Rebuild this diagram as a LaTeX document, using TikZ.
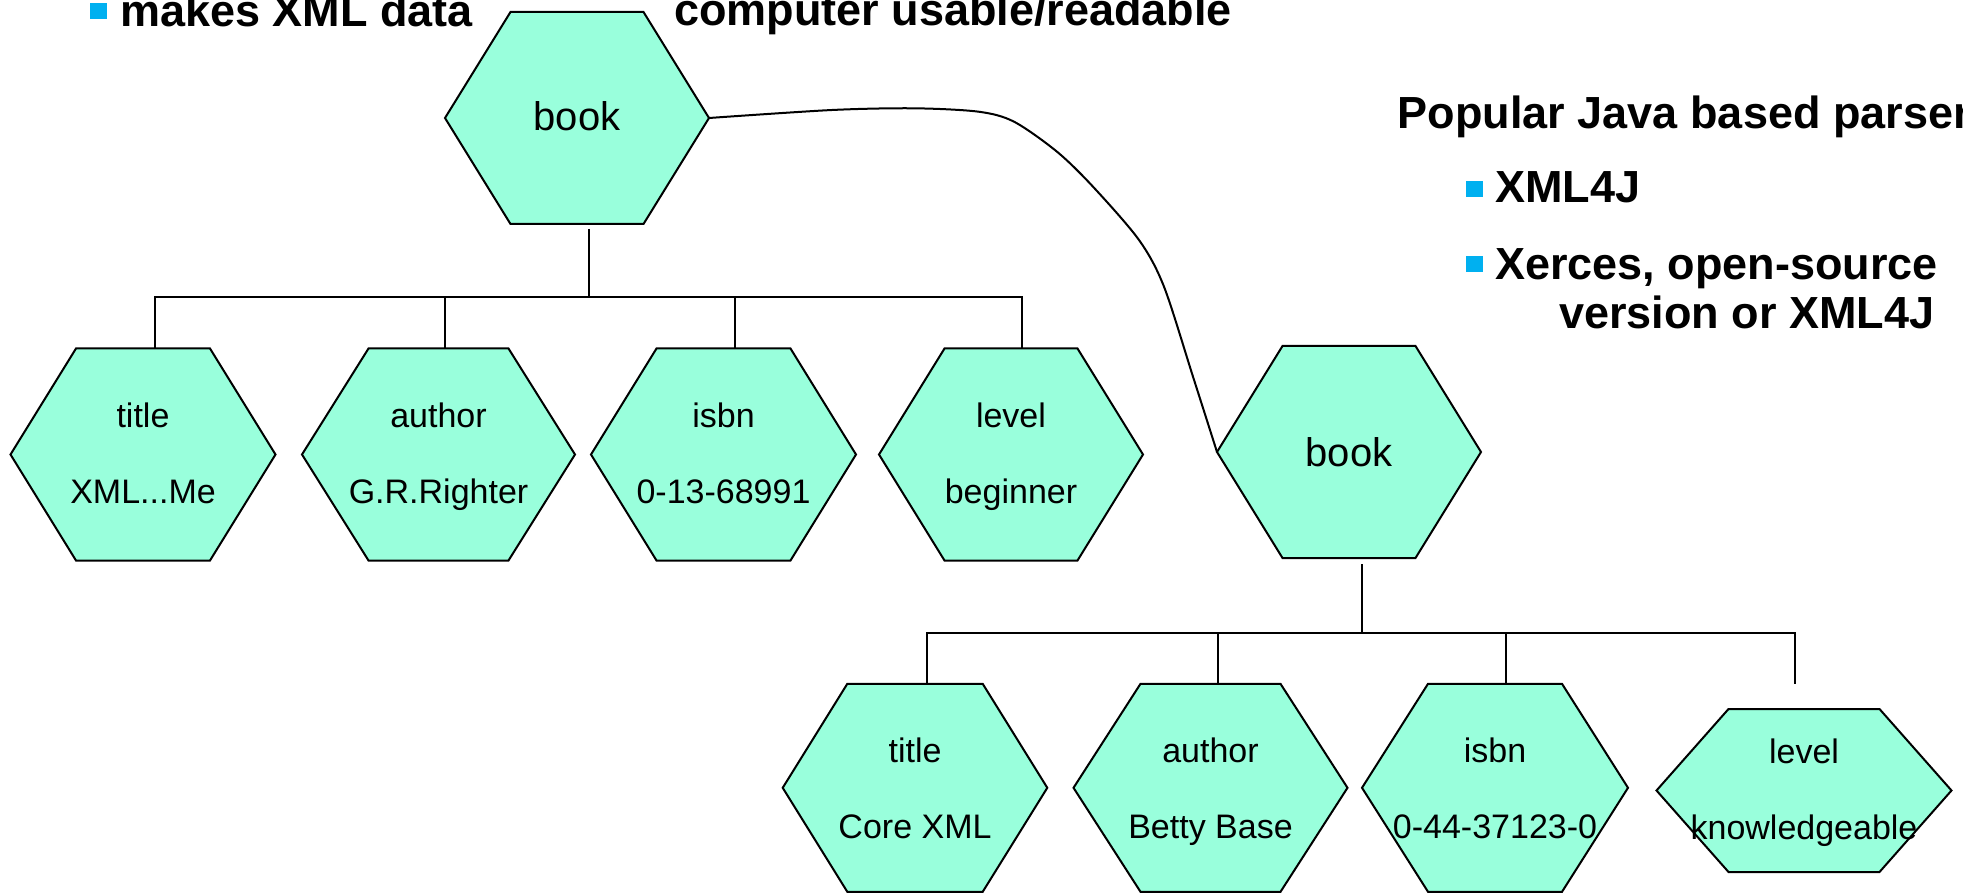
\documentclass[tikz,border=0pt]{standalone}
\usepackage{fontspec}
\setmainfont{Liberation Sans}
\definecolor{mint}{RGB}{153,255,220}
\definecolor{bulletblue}{RGB}{0,176,240}
\newcommand{\hexpath}[2]{\filldraw[hexline] (#1.west) -- ([xshift=#2]#1.north west) -- ([xshift=-#2]#1.north east) -- (#1.east) -- ([xshift=-#2]#1.south east) -- ([xshift=#2]#1.south west) -- cycle;}
\begin{document}
\begin{tikzpicture}[x=1pt,y=-1pt,
  hex/.style={rectangle, minimum height=212pt, inner sep=0pt, outer sep=0pt},
  hexline/.style={draw=black, line width=2pt, fill=mint},
  lbl/.style={font=\fontsize{34pt}{40pt}\selectfont, inner sep=0pt, anchor=base},
  booklbl/.style={font=\fontsize{40pt}{48pt}\selectfont, inner sep=0pt, anchor=base},
  txt/.style={font=\fontsize{45pt}{54pt}\selectfont\bfseries, inner sep=0pt, anchor=base west},
  bul/.style={rectangle, fill=bulletblue, inner sep=0pt, minimum width=17pt, minimum height=16pt},
  conn/.style={line width=2pt}]
\useasboundingbox (0,0) rectangle (1963,893);

% texts
\node[bul] (bu0) at (98,11) {};
\node[txt] (tx0) at (120,26.5) {makes XML data};
\node[txt] (tx1) at (674,25.5) {computer usable/readable};
\node[txt] (tx2) at (1397.7,129) {Popular Java based parser};
\node[bul] (bu1) at (1474.5,189) {};
\node[txt] (tx3) at (1495,203) {XML4J};
\node[bul] (bu2) at (1474.5,264.5) {};
\node[txt] (tx4) at (1495,280) {Xerces, open-source};
\node[txt] (tx5) at (1559,329) {version or XML4J};

% hexagon frames (named nodes)
\node[hex, minimum width=264pt] (b1) at (577,118) {};
\node[hex, minimum width=264pt] (b2) at (1349,452) {};
\node[hex, minimum width=265pt] (t1) at (143,454.5) {};
\node[hex, minimum width=273pt] (a1) at (438.5,454.5) {};
\node[hex, minimum width=265pt] (i1) at (723.5,454.5) {};
\node[hex, minimum width=264pt] (l1) at (1011,454.5) {};
\node[hex, minimum width=264.6pt, minimum height=208pt] (t2) at (915,787.8) {};
\node[hex, minimum width=274pt, minimum height=208pt] (a2) at (1210.5,787.8) {};
\node[hex, minimum width=266pt, minimum height=208pt] (i2) at (1495,787.8) {};
\node[hex, minimum width=295pt, minimum height=163pt] (l2) at (1804,790.5) {};

% curve between the two books
\draw[conn] plot[smooth, tension=0.5] coordinates {(b1.east) (832,110) (914,108.3) (978.6,111.7) (1014,121.7) (1057,151.7) (1093,186.7) (1139,240) (1164,286.7) (1193,376.7) (b2.west)};

% hexagons
\hexpath{b1}{65.5pt}
\hexpath{b2}{65.5pt}
\hexpath{t1}{65.5pt}
\hexpath{a1}{66.5pt}
\hexpath{i1}{65.5pt}
\hexpath{l1}{65.5pt}
\hexpath{t2}{64.6pt}
\hexpath{a2}{67pt}
\hexpath{i2}{66pt}
\hexpath{l2}{72pt}

\node[booklbl] (b1t) at ([yshift=-13pt]b1.center) {book};
\node[booklbl] (b2t) at ([yshift=-14pt]b2.center) {book};

\node[lbl] (t1a) at ([yshift=27pt]t1.center) {title};
\node[lbl] (t1b) at ([yshift=-49pt]t1.center) {XML...Me};
\node[lbl] (a1a) at ([yshift=27pt]a1.center) {author};
\node[lbl] (a1b) at ([yshift=-49pt]a1.center) {G.R.Righter};
\node[lbl] (i1a) at ([yshift=27pt]i1.center) {isbn};
\node[lbl] (i1b) at ([yshift=-49pt]i1.center) {0-13-68991};
\node[lbl] (l1a) at ([yshift=27pt]l1.center) {level};
\node[lbl] (l1b) at ([yshift=-49pt]l1.center) {beginner};

\node[lbl] (t2a) at ([yshift=25.5pt]t2.center) {title};
\node[lbl] (t2b) at ([yshift=-50.5pt]t2.center) {Core XML};
\node[lbl] (a2a) at ([yshift=25.5pt]a2.center) {author};
\node[lbl] (a2b) at ([yshift=-50.5pt]a2.center) {Betty Base};
\node[lbl] (i2a) at ([yshift=25.5pt]i2.center) {isbn};
\node[lbl] (i2b) at ([yshift=-50.5pt]i2.center) {0-44-37123-0};
\node[lbl] (l2a) at ([yshift=26.8pt]l2.center) {level};
\node[lbl] (l2b) at ([yshift=-49.2pt]l2.center) {knowledgeable};

% tree connectors
\draw[conn] ([xshift=12.3pt,yshift=-5pt]b1.south) -- ++(0,68);
\draw[conn] ([xshift=12pt]t1.north) -- ++(0,-51) -| ([xshift=11pt]l1.north);
\draw[conn] ([xshift=6pt]a1.north) -- ++(0,-51);
\draw[conn] ([xshift=11pt]i1.north) -- ++(0,-51);

\coordinate (l2end) at (1794.5,683.7);
\draw[conn] ([xshift=12.7pt,yshift=-6pt]b2.south) -- ++(0,68.5);
\draw[conn] ([xshift=12.3pt]t2.north) -- ++(0,-51) -| (l2end);
\draw[conn] ([xshift=7pt]a2.north) -- ++(0,-51);
\draw[conn] ([xshift=11pt]i2.north) -- ++(0,-51);
\end{tikzpicture}
\end{document}
